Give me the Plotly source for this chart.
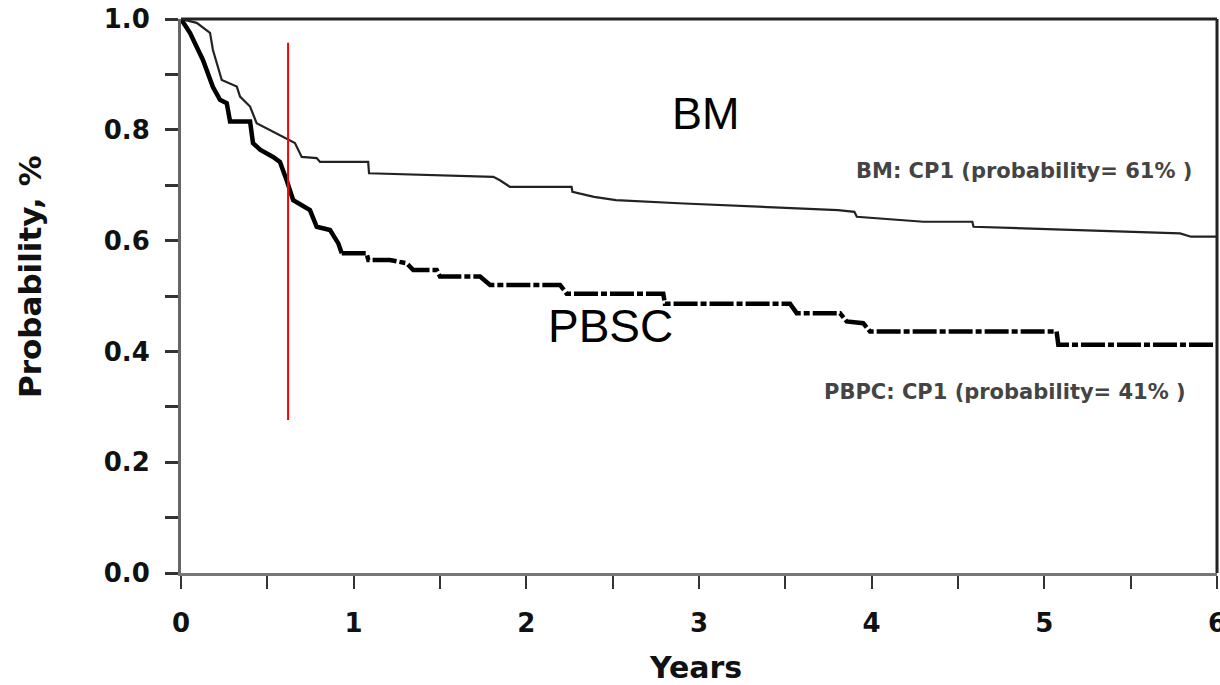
import plotly.graph_objects as go

# ---- data ----
bm_years = [0.0, 0.091, 0.168, 0.185, 0.236, 0.323, 0.342, 0.400, 0.438, 0.533, 0.602, 0.660,
            0.699, 0.786, 0.805, 1.084, 1.089, 1.809, 1.847, 1.905, 2.262, 2.267, 2.392, 2.519,
            2.913, 3.718, 3.805, 3.900, 3.914, 4.300, 4.583, 4.590, 5.786, 5.850, 6.0]
bm_prob = [1.000, 0.993, 0.975, 0.944, 0.890, 0.878, 0.860, 0.842, 0.812, 0.797, 0.785, 0.776,
           0.751, 0.749, 0.742, 0.742, 0.7215, 0.715, 0.709, 0.697, 0.697, 0.688, 0.679, 0.673,
           0.667, 0.657, 0.655, 0.652, 0.643, 0.634, 0.634, 0.625, 0.613, 0.607, 0.607]

pbsc_early_years = [0.0, 0.052, 0.127, 0.185, 0.226, 0.265, 0.284, 0.400, 0.417, 0.458, 0.533,
                    0.573, 0.612, 0.650, 0.747, 0.786, 0.863, 0.911, 0.931]
pbsc_early_prob = [1.000, 0.975, 0.926, 0.877, 0.854, 0.848, 0.815, 0.815, 0.776, 0.764, 0.751,
                   0.742, 0.709, 0.673, 0.655, 0.625, 0.619, 0.595, 0.577]

pbsc_late_years = [0.931, 1.075, 1.085, 1.210, 1.307, 1.345, 1.481, 1.500, 1.732, 1.790, 2.195,
                   2.234, 2.793, 2.803, 3.527, 3.566, 3.817, 3.855, 3.951, 3.990, 5.071, 5.081, 6.0]
pbsc_late_prob = [0.577, 0.577, 0.565, 0.565, 0.559, 0.547, 0.547, 0.535, 0.535, 0.520, 0.520,
                  0.504, 0.504, 0.486, 0.486, 0.469, 0.469, 0.454, 0.451, 0.436, 0.436, 0.412, 0.412]

marker_year = 0.62
marker_range = [0.276, 0.957]

x_tickvals = [0, 0.5, 1, 1.5, 2, 2.5, 3, 3.5, 4, 4.5, 5, 5.5, 6]
x_ticktext = ["0", "", "1", "", "2", "", "3", "", "4", "", "5", "", "6"]
y_tickvals = [0.0, 0.1, 0.2, 0.3, 0.4, 0.5, 0.6, 0.7, 0.8, 0.9, 1.0]
y_ticktext = ["0.0", "", "0.2", "", "0.4", "", "0.6", "", "0.8", "", "1.0"]

bm_label = "BM: CP1 (probability= 61% )"
pbpc_label = "PBPC: CP1 (probability= 41% )"

fig = go.Figure()
fig.add_trace(go.Scatter(x=bm_years, y=bm_prob, mode="lines",
                         line=dict(color="#222222", width=2.2), name="BM", showlegend=False))
fig.add_trace(go.Scatter(x=pbsc_early_years, y=pbsc_early_prob, mode="lines",
                         line=dict(color="#000000", width=4.5), name="PBSC", showlegend=False))
fig.add_trace(go.Scatter(x=pbsc_late_years, y=pbsc_late_prob, mode="lines",
                         line=dict(color="#000000", width=4.5, dash="24px,3px,6px,3px"),
                         name="PBSC", showlegend=False))

fig.add_shape(type="line", x0=marker_year, x1=marker_year, y0=marker_range[0], y1=marker_range[1],
              xref="x", yref="y", line=dict(color="#ff0000", width=2))
# top and right frame
fig.add_shape(type="line", x0=0, x1=1, y0=1, y1=1, xref="paper", yref="paper",
              line=dict(color="#222222", width=3))
fig.add_shape(type="line", x0=1, x1=1, y0=0, y1=1, xref="paper", yref="paper",
              line=dict(color="#222222", width=3))

tickfont = dict(family="DejaVu Sans", size=26, color="#111111", weight="bold")
fig.update_xaxes(range=[0, 6], tickvals=x_tickvals, ticktext=x_ticktext, ticks="outside",
                 ticklen=13, tickwidth=2, tickcolor="#333333", showline=True, linecolor="#777777",
                 linewidth=3, showgrid=False, zeroline=False, tickfont=tickfont,
                 ticklabelstandoff=12, ticklabeloverflow="allow", automargin=False)
fig.update_yaxes(range=[0, 1], tickvals=y_tickvals, ticktext=y_ticktext, ticks="outside",
                 ticklen=13, tickwidth=3, tickcolor="#333333", showline=True, linecolor="#666666",
                 linewidth=3, showgrid=False, zeroline=False, tickfont=tickfont,
                 ticklabelstandoff=10, automargin=False)

fig.add_annotation(text="Years", xref="paper", yref="paper", x=0.497, y=-0.171,
                   xanchor="center", yanchor="middle", showarrow=False,
                   font=dict(family="DejaVu Sans", size=30, color="#111111", weight="bold"))
fig.add_annotation(text="Probability, %", xref="paper", yref="paper", x=-0.1458, y=0.536,
                   xanchor="center", yanchor="middle", textangle=-90, showarrow=False,
                   font=dict(family="DejaVu Sans", size=31, color="#111111", weight="bold"))
fig.add_annotation(text="BM", x=3.04, y=0.83, xref="x", yref="y", showarrow=False,
                   font=dict(family="Liberation Sans", size=45, color="#000000"))
fig.add_annotation(text="PBSC", x=2.485, y=0.446, xref="x", yref="y", showarrow=False,
                   font=dict(family="Liberation Sans", size=46, color="#000000"))
fig.add_annotation(text=bm_label, x=5.867, y=0.726, xref="x", yref="y", xanchor="right",
                   showarrow=False, font=dict(family="DejaVu Sans", size=21, color="#444444", weight="bold"))
fig.add_annotation(text=pbpc_label, x=5.83, y=0.327, xref="x", yref="y", xanchor="right",
                   showarrow=False, font=dict(family="DejaVu Sans", size=21, color="#444444", weight="bold"))

fig.update_layout(width=1220, height=685, margin=dict(l=181, r=3, t=19, b=112),
                  plot_bgcolor="white", paper_bgcolor="white", showlegend=False)

fig.write_html("out.html")
